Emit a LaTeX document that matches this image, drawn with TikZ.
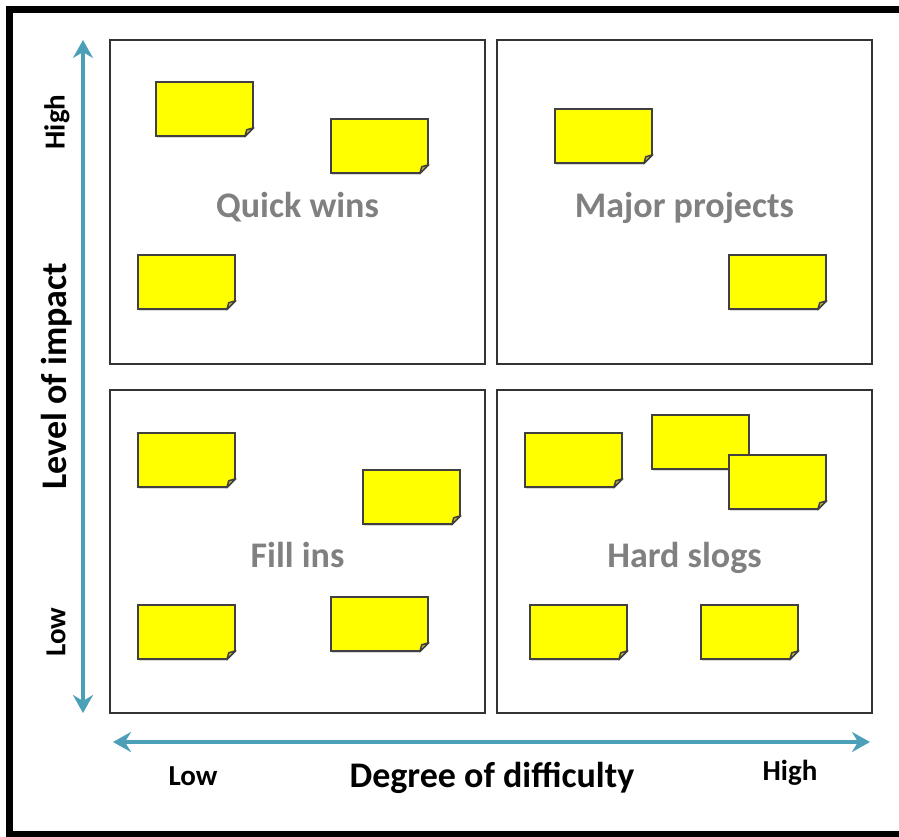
\documentclass[tikz,border=0pt]{standalone}
\usepackage{fontspec}
\setmainfont{Carlito}
\usetikzlibrary{arrows.meta, shadows}

\definecolor{axisteal}{HTML}{4BA0B8}
\definecolor{notefill}{HTML}{FFFF00}

\begin{document}
\begin{tikzpicture}[x=0.02cm, y=-0.02cm,
    quad/.style={rectangle, draw=black!80, line width=0.04cm, minimum width=7.5cm, minimum height=6.48cm, text=black!50, text height=20pt, text depth=2pt, font=\fontsize{20.5}{24}\selectfont\bfseries},
    note/.style={rectangle, draw=black!75, line width=0.03cm, fill=notefill, minimum width=1.94cm, minimum height=1.08cm, inner sep=0pt,
        drop shadow={opacity=0.3, shadow xshift=0.4pt, shadow yshift=-1.2pt}},
    fold/.style={draw=black!75, line width=0.03cm, line join=round, fill=yellow!70!black},
    arrow/.style={axisteal, line width=0.08cm, {Stealth[length=0.36cm, width=0.4cm, inset=0.12cm]}-{Stealth[length=0.36cm, width=0.4cm, inset=0.12cm]}},
    axislabel/.style={font=\fontsize{20.5}{24}\selectfont\bfseries},
    endlabel/.style={font=\fontsize{16.5}{20}\selectfont\bfseries}]

    \useasboundingbox (0,0) rectangle (899,836);
    % outer frame
    \draw [line width=0.14cm] (9.5,9.5) rectangle (930,834);

    % the four quadrants
    \node (quick) [quad] at (297.5,202) {Quick wins};
    \node (major) [quad] at (684.5,202) {Major projects};
    \node (fill) [quad, minimum height=6.46cm] at (297.5,551.5) {Fill ins};
    \node (slog) [quad, minimum height=6.46cm] at (684.5,551.5) {Hard slogs};

    % sticky notes
    \node (n1) [note] at (204.5,109) {};
    \node (n2) [note] at (379.5,146) {};
    \node (n3) [note] at (186.5,282) {};
    \node (n4) [note] at (603.5,136) {};
    \node (n5) [note] at (777.5,282) {};
    \node (n6) [note] at (186.5,460) {};
    \node (n7) [note] at (411.5,497) {};
    \node (n8) [note] at (186.5,632) {};
    \node (n9) [note] at (379.5,624) {};
    \node (n10) [note] at (573.5,460) {};
    \node (n11) [note] at (700.5,442) {};
    \node (n12) [note] at (777.5,482) {};
    \node (n13) [note] at (578.5,632) {};
    \node (n14) [note] at (749.5,632) {};

    % curled corner on each note (n11 is hidden under n12)
    \foreach \n in {n1,n2,n3,n4,n5,n6,n7,n8,n9,n10,n12,n13,n14} {
        \fill [white] ([xshift=-0.2cm, yshift=-0.03cm]\n.south east) -- ([xshift=0.03cm, yshift=-0.03cm]\n.south east) -- ([xshift=0.03cm, yshift=0.2cm]\n.south east) -- cycle;
        \draw [fold] ([xshift=-0.18cm]\n.south east) -- ([yshift=0.18cm]\n.south east) -- ([xshift=-0.14cm, yshift=0.14cm]\n.south east) -- cycle;
    }

    % axes
    \coordinate (ytop) at (83,40);
    \coordinate (ybot) at (83,713);
    \coordinate (xleft) at (113,742);
    \coordinate (xright) at (870,742);
    \draw [arrow] (ytop) -- (ybot);
    \draw [arrow] (xleft) -- (xright);

    \node (yhigh) [endlabel, rotate=90] at (57,122) {High};
    \node (ytitle) [axislabel, rotate=90] at (57,376) {Level of impact};
    \node (ylow) [endlabel, rotate=90] at (56,632) {Low};
    \node (xlow) [endlabel] at (193,776) {Low};
    \node (xtitle) [axislabel] at (492,778) {Degree of difficulty};
    \node (xhigh) [endlabel] at (790,773) {High};
\end{tikzpicture}
\end{document}
